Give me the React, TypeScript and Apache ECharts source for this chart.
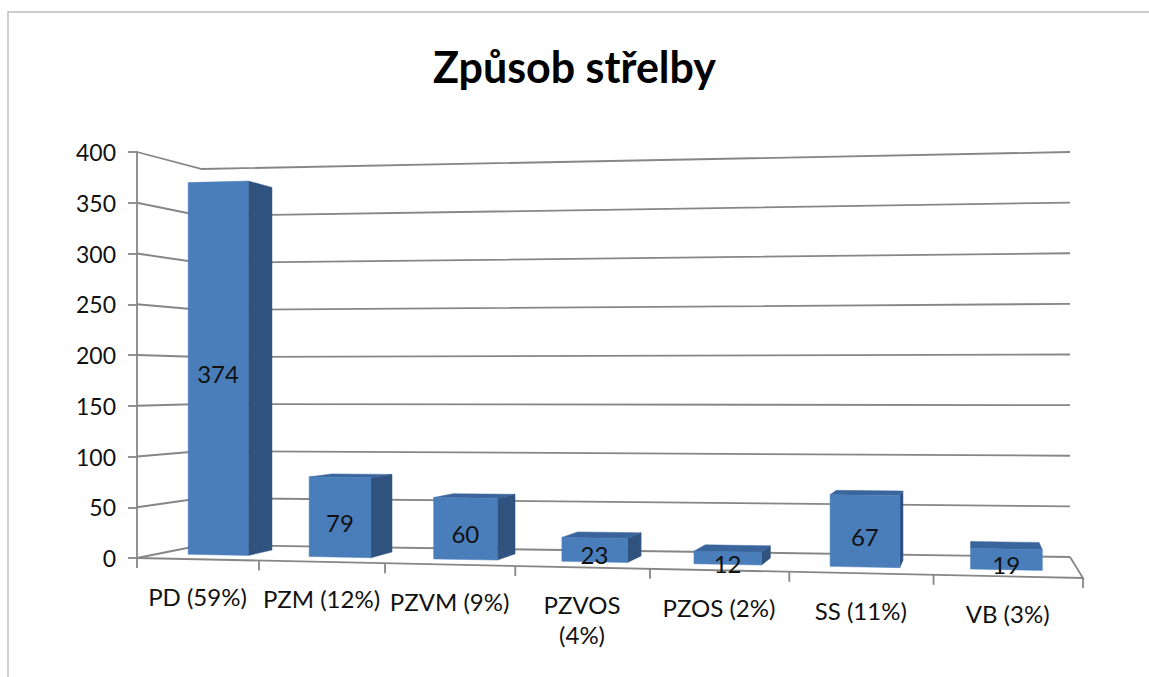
import { useEffect, useRef } from 'react';
import * as echarts from 'echarts';

// ---- data ----
const chartTitle = 'Způsob střelby';
const categories = ['PD (59%)', 'PZM (12%)', 'PZVM (9%)', 'PZVOS\n(4%)', 'PZOS (2%)', 'SS (11%)', 'VB (3%)'];
const values = [374, 79, 60, 23, 12, 67, 19];
const valueTicks = [0, 50, 100, 150, 200, 250, 300, 350, 400];

// ---- layout (perspective box) ----
const GRID = { left: 137, top: 152, width: 946, height: 406 };
// corners: (u0,v0), (u1,v0), (u1,v1), (u0,v1)
const FRONT = [[137, 558], [1083, 578], [1083, 121], [137, 152]];
const BACK = [[202, 545], [1070, 557], [1070, 152], [202, 169]];
const Z0 = 0.33;
const Z1 = 0.72;
const BAR_W = 0.5;
const FONT = 'Lato, "Open Sans", sans-serif';
const LINE = '#868686';
const FRONT_FILL = '#4A7EBB';
const SIDE_FILL = '#30527F';
const TOP_FILL = '#3A659C';

function homography(q: number[][]) {
  const [x0, y0] = q[0], [x1, y1] = q[1], [x2, y2] = q[2], [x3, y3] = q[3];
  const dx1 = x1 - x2, dx2 = x3 - x2, dx3 = x0 - x1 + x2 - x3;
  const dy1 = y1 - y2, dy2 = y3 - y2, dy3 = y0 - y1 + y2 - y3;
  const den = dx1 * dy2 - dx2 * dy1;
  const g = (dx3 * dy2 - dx2 * dy3) / den;
  const h = (dx1 * dy3 - dx3 * dy1) / den;
  const a = x1 - x0 + g * x1, b = x3 - x0 + h * x3, c = x0;
  const d = y1 - y0 + g * y1, e = y3 - y0 + h * y3, f = y0;
  return (u: number, v: number) => {
    const w = g * u + h * v + 1;
    return [(a * u + b * v + c) / w, (d * u + e * v + f) / w];
  };
}
const HF = homography(FRONT);
const HB = homography(BACK);
function P(u: number, v: number, z: number) {
  const f = HF(u, v);
  const b = HB(u, v);
  return [f[0] + (b[0] - f[0]) * z, f[1] + (b[1] - f[1]) * z];
}

export default function App() {
  const ref = useRef<HTMLDivElement>(null);
  useEffect(() => {
    if (!ref.current) return;
    const chart = echarts.init(ref.current, undefined, { renderer: 'svg' });

    const wallRender = (params: any, api: any) => {
      const cs = params.coordSys;
      const children: any[] = [];
      const lineStyle = { stroke: LINE, lineWidth: 1.8, fill: 'none' };
      valueTicks.forEach((t) => {
        const p = api.coord([0, t]);
        const v = (cs.y + cs.height - p[1]) / cs.height;
        children.push({
          type: 'polyline',
          shape: { points: [P(0, v, 0), P(0, v, 1), P(1, v, 1)] },
          style: lineStyle,
        });
      });
      // floor front and right edges
      children.push({ type: 'polyline', shape: { points: [P(0, 0, 0), P(1, 0, 0), P(1, 0, 1)] }, style: lineStyle });
      // category ticks on the front edge
      const bw = api.size([1, 0])[0];
      for (let k = 0; k <= categories.length; k++) {
        const x = k < categories.length ? api.coord([k, 0])[0] - bw / 2 : cs.x + cs.width;
        const u = (x - cs.x) / cs.width;
        const p = P(u, 0, 0);
        children.push({ type: 'line', shape: { x1: p[0], y1: p[1], x2: p[0], y2: p[1] + 10 }, style: lineStyle });
      }
      return { type: 'group', children };
    };

    const barRender = (params: any, api: any) => {
      const cs = params.coordSys;
      const i = api.value(0);
      const val = api.value(1);
      const top = api.coord([i, val]);
      const bw = api.size([1, 0])[0];
      const uc = (top[0] - cs.x) / cs.width;
      const du = (bw / cs.width) * BAR_W / 2;
      const vt = (cs.y + cs.height - top[1]) / cs.height;
      const ua = uc - du, ub = uc + du;
      const children: any[] = [];
      const poly = (pts: number[][], fill: string) => ({
        type: 'polygon',
        shape: { points: pts },
        style: { fill, stroke: fill, lineWidth: 0.5 },
      });
      // right side
      if (P(ub, 0, Z1)[0] > P(ub, 0, Z0)[0] + 0.5) {
        children.push(poly([P(ub, 0, Z0), P(ub, 0, Z1), P(ub, vt, Z1), P(ub, vt, Z0)], SIDE_FILL));
      }
      // left side
      if (P(ua, 0, Z1)[0] < P(ua, 0, Z0)[0] - 0.5) {
        children.push(poly([P(ua, 0, Z0), P(ua, 0, Z1), P(ua, vt, Z1), P(ua, vt, Z0)], SIDE_FILL));
      }
      // top
      if (P(uc, vt, Z1)[1] < P(uc, vt, Z0)[1] - 0.5) {
        children.push(poly([P(ua, vt, Z0), P(ub, vt, Z0), P(ub, vt, Z1), P(ua, vt, Z1)], TOP_FILL));
      }
      // front
      children.push(poly([P(ua, 0, Z0), P(ub, 0, Z0), P(ub, vt, Z0), P(ua, vt, Z0)], FRONT_FILL));
      // data label
      const lp = P(uc, vt / 2, Z0);
      children.push({
        type: 'text',
        style: {
          text: String(val),
          x: lp[0],
          y: lp[1] + 5,
          align: 'center',
          verticalAlign: 'middle',
          fontSize: 24,
          fontFamily: FONT,
          fill: '#111111',
        },
      });
      // category label
      const cp = P(uc, 0, 0);
      children.push({
        type: 'text',
        style: {
          text: categories[i],
          x: cp[0],
          y: cp[1] + 22,
          align: 'center',
          verticalAlign: 'top',
          lineHeight: 30,
          fontSize: 24,
          fontFamily: FONT,
          fill: '#111111',
        },
      });
      return { type: 'group', children };
    };

    chart.setOption({
      animation: false,
      backgroundColor: '#ffffff',
      title: {
        text: chartTitle,
        left: 'center',
        top: 40,
        textStyle: { fontSize: 43, fontWeight: 'bold', fontFamily: FONT, color: '#000000' },
      },
      graphic: [
        {
          type: 'rect',
          silent: true,
          z: -10,
          shape: { x: 8, y: 12, width: 1300, height: 800 },
          style: { fill: 'none', stroke: '#BFBFBF', lineWidth: 1.5 },
        },
      ],
      grid: { left: GRID.left, top: GRID.top, width: GRID.width, height: GRID.height, outerBoundsMode: 'none' },
      xAxis: { type: 'category', data: categories, show: false },
      yAxis: {
        type: 'value',
        min: 0,
        max: 400,
        interval: 50,
        axisLine: { show: true, lineStyle: { color: LINE, width: 1.8 } },
        axisTick: { show: true, length: 9, lineStyle: { color: LINE, width: 1.8 } },
        axisLabel: { fontSize: 23, fontFamily: FONT, color: '#111111', margin: 21 },
        splitLine: { show: false },
      },
      series: [
        { type: 'custom', renderItem: wallRender, data: [[0, 0]], z: 1, silent: true, clip: false },
        {
          type: 'custom',
          renderItem: barRender,
          data: values.map((v, i) => [i, v]),
          z: 2,
          silent: true,
          clip: false,
        },
      ],
    });
    return () => chart.dispose();
  }, []);
  return (
    <div
      ref={ref}
      style={{ position: 'fixed', left: 0, top: 0, width: 1149, height: 677, background: '#fff' }}
    />
  );
}
